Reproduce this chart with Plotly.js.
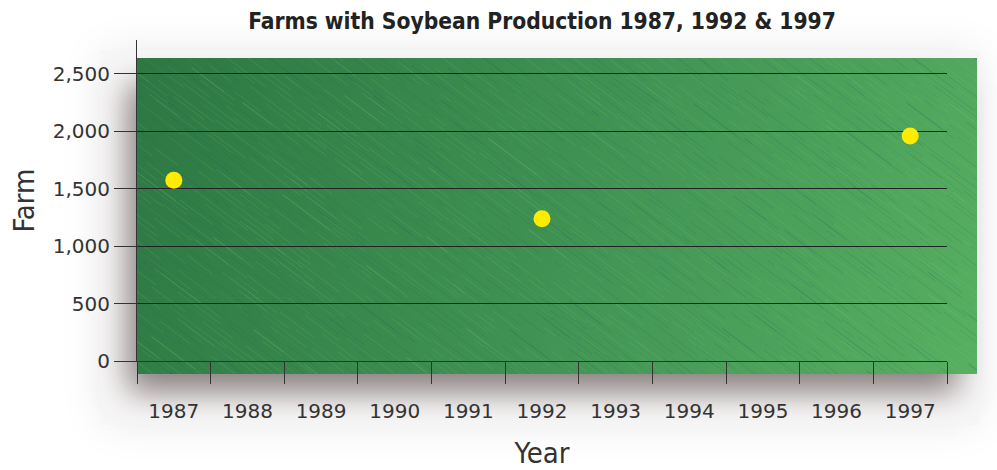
<!DOCTYPE html>
<html>
<head>
<meta charset="utf-8">
<script src="https://cdn.plot.ly/plotly-3.0.1.min.js"></script>
<style>html,body{margin:0;padding:0;background:#fff;}#chart{width:997px;height:470px;}</style>
</head>
<body>
<div id="chart"></div>
<script>
// ---- data ----
const years = ['1987','1988','1989','1990','1991','1992','1993','1994','1995','1996','1997'];
const pointYears = ['1987','1992','1997'];
const farms = [1575, 1240, 1960];
const yTickVals = [0, 500, 1000, 1500, 2000, 2500];
const yTickText = ['0', '500', '1,000', '1,500', '2,000', '2,500'];

// ---- decorative background (green crayon panel with shadow) ----
const W = 997, H = 470;
const ML = 137, MR = 50, MT = 40, MB = 109;
const PW = W - ML - MR, PH = H - MT - MB;

function makeBackground() {
  const c = document.createElement('canvas');
  c.width = W; c.height = H;
  const g = c.getContext('2d');
  g.fillStyle = '#ffffff';
  g.fillRect(0, 0, W, H);
  // faint haze around panel
  g.save();
  g.shadowColor = 'rgba(0,0,0,0.08)';
  g.shadowBlur = 40;
  g.fillStyle = '#f8f7f7';
  g.fillRect(100, 50, 880, 375);
  g.restore();
  // drop shadow to the left and below
  g.save();
  g.shadowColor = 'rgba(90,75,75,0.7)';
  g.shadowBlur = 30;
  g.shadowOffsetX = -12;
  g.shadowOffsetY = 22;
  g.fillStyle = '#3a8a4e';
  g.fillRect(140, 62, 830, 308);
  g.restore();
  // green gradient panel
  const lg = g.createLinearGradient(137, 55, 978, 373);
  lg.addColorStop(0, '#2d7743');
  lg.addColorStop(0.5, '#3f9152');
  lg.addColorStop(1, '#58b062');
  g.fillStyle = lg;
  g.fillRect(137, 58, 840, 316);
  // diagonal crayon streaks (deterministic pattern)
  g.save();
  g.beginPath(); g.rect(137, 58, 840, 316); g.clip();
  g.lineWidth = 1;
  for (let i = 0; i < 1400; i++) {
    const h = (i * 2654435761) >>> 0;
    const x = 100 + (h % 920);
    const y = 40 + ((h >>> 10) % 360);
    const len = 20 + ((h >>> 20) % 40);
    const light = (h >>> 5) % 2 === 0;
    g.strokeStyle = light ? 'rgba(120,200,120,0.2)' : 'rgba(30,100,100,0.2)';
    g.beginPath();
    g.moveTo(x, y);
    g.lineTo(x + len, y + len * 0.75);
    g.stroke();
  }
  g.restore();
  return c.toDataURL('image/png');
}

const trace = {
  type: 'scatter',
  mode: 'markers',
  x: pointYears,
  y: farms,
  marker: {color: '#ffec00', size: 17, line: {width: 0}},
  hoverinfo: 'x+y'
};

const tickFont = {family: 'DejaVu Sans, sans-serif', size: 20, color: '#333333'};
const condFont = 'DejaVu Sans Condensed, Liberation Sans Narrow, sans-serif';

const layout = {
  width: W, height: H,
  margin: {l: ML, r: MR, t: MT, b: MB},
  paper_bgcolor: '#ffffff',
  plot_bgcolor: 'rgba(0,0,0,0)',
  showlegend: false,
  title: {
    text: 'Farms with Soybean Production 1987, 1992 &amp; 1997',
    font: {family: condFont, size: 22.6, color: '#222222', weight: 'bold'},
    x: 0.5, xref: 'paper', xanchor: 'center',
    y: 1 - 21 / H, yref: 'container', yanchor: 'middle'
  },
  xaxis: {
    type: 'category',
    categoryorder: 'array',
    categoryarray: years,
    tickvals: years,
    ticktext: years,
    range: [-0.5, 10.5],
    tickson: 'boundaries',
    ticks: 'outside',
    ticklen: 22,
    tickwidth: 1,
    tickcolor: '#333333',
    showline: true,
    linecolor: '#333333',
    linewidth: 1,
    showgrid: false,
    zeroline: false,
    tickfont: tickFont,
    ticklabelstandoff: 32,
    title: {text: 'Year', font: {family: condFont, size: 29, color: '#333333'}, standoff: 20},
    fixedrange: true
  },
  yaxis: {
    range: [0, 2796],
    tickvals: yTickVals,
    ticktext: yTickText,
    ticks: 'outside',
    ticklen: 22,
    tickwidth: 1,
    tickcolor: '#333333',
    showline: true,
    linecolor: '#333333',
    linewidth: 1,
    showgrid: true,
    gridcolor: '#222222',
    gridwidth: 1,
    zeroline: false,
    tickfont: tickFont,
    title: {text: 'Farm', font: {family: condFont, size: 29, color: '#333333'}, standoff: 9},
    fixedrange: true
  },
  images: [{
    source: makeBackground(),
    xref: 'paper', yref: 'paper',
    x: -ML / PW, y: 1 + MT / PH,
    sizex: W / PW, sizey: H / PH,
    xanchor: 'left', yanchor: 'top',
    sizing: 'stretch',
    layer: 'below'
  }]
};

Plotly.newPlot('chart', [trace], layout, {displayModeBar: false, staticPlot: true});
</script>
</body>
</html>
